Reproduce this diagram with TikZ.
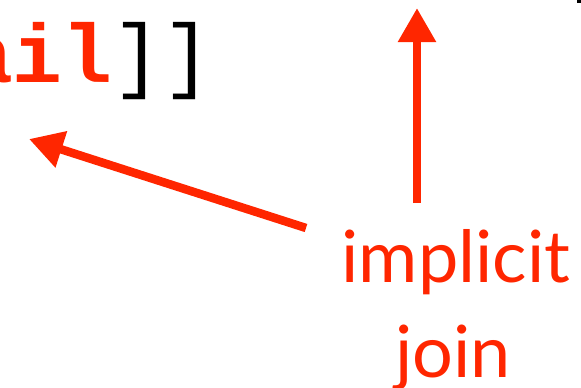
\documentclass[tikz,border=0pt]{standalone}
\usepackage{fontspec}
\setmainfont{Lato}
\newfontfamily\codefont{Liberation Mono}
\usetikzlibrary{arrows.meta}
\definecolor{jred}{RGB}{255,38,0}
\tikzset{
  redarrow/.style={draw=jred, line width=8.5pt, -{Triangle[length=34pt,width=36pt]}},
  labeltext/.style={text=jred, inner sep=0pt, font=\fontsize{72}{72}\selectfont, anchor=base},
  codetext/.style={inner sep=0pt, font=\fontsize{83}{83}\selectfont\codefont, anchor=base west}
}
\begin{document}
\begin{tikzpicture}[x=1pt,y=-1pt]
\useasboundingbox (0,0) rectangle (581,388);
\clip (0,0) rectangle (581,388);
\node[codetext] (code) at (-37,82) {\textcolor{jred}{\bfseries ail}]]};
\fill[black] (577,0) rectangle (581,3);
\node[labeltext] (impl) at (456,282) {implicit};
\node[labeltext] (join) at (453,377) {join};
\coordinate (s1) at (306,228);
\coordinate (t1) at (29,139);
\coordinate (s2) at (417,203);
\coordinate (t2) at (417,8);
\draw[redarrow] (s1) -- (t1);
\draw[redarrow] (s2) -- (t2);
\end{tikzpicture}
\end{document}
